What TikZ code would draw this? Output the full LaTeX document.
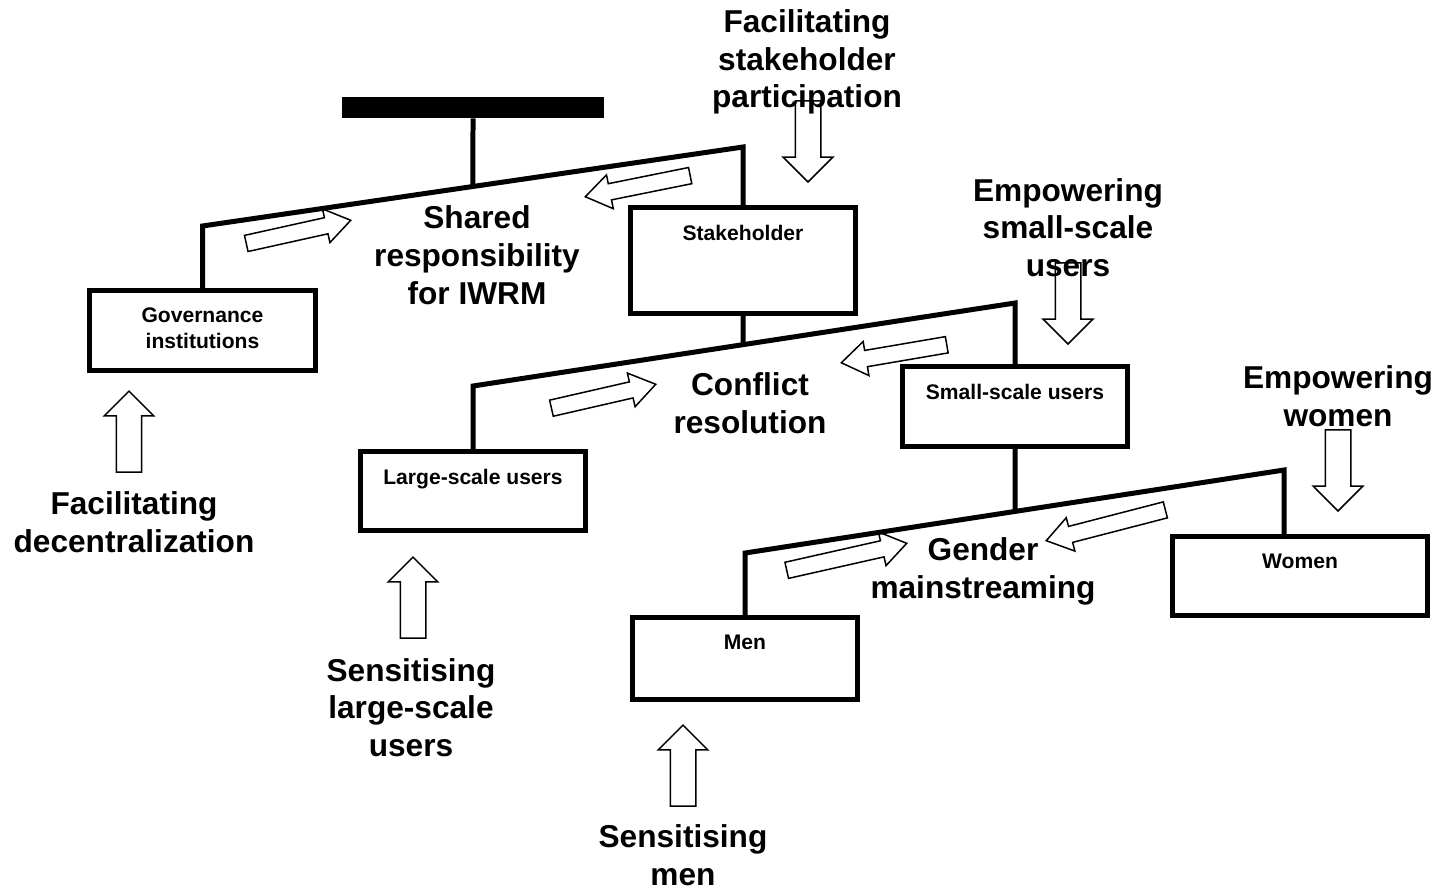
\documentclass[tikz,border=0pt]{standalone}
\usepackage{fontspec}
\setmainfont{Liberation Sans}
\usetikzlibrary{shapes.arrows}

\begin{document}
\begin{tikzpicture}[x=0.02cm, y=-0.02cm,
    unitbox/.style={rectangle, draw, line width=0.1cm, minimum width=4.5cm, minimum height=1.6cm, inner sep=0pt},
    boxtext/.style={anchor=north, yshift=-0.27cm, font=\fontsize{12}{14.7}\selectfont\bfseries, align=center},
    biglabel/.style={font=\fontsize{18}{21.5}\selectfont\bfseries, align=center},
    link/.style={line width=0.1cm},
    vblock/.style={single arrow, draw, line width=0.03cm, inner sep=0.24cm, single arrow head extend=0.24cm, single arrow tip angle=90, minimum height=1.62cm, anchor=tip},
    sblock/.style={single arrow, draw, line width=0.03cm, inner sep=0.15cm, single arrow head extend=0.18cm, single arrow tip angle=69, minimum height=2.14cm, anchor=tip}]
    \useasboundingbox (0,0) rectangle (1441,894);

    % Top of the tree
    \node[fill, minimum width=5.24cm, minimum height=0.42cm, inner sep=0pt] (bar) at (473,107.5) {};

    % Boxes
    \node[unitbox, minimum height=2.12cm, label={[boxtext]north:Stakeholder}] (stake) at (743,260.5) {};
    \node[unitbox, minimum width=4.52cm, label={[boxtext]north:Governance\\institutions}] (gov) at (202.5,330.5) {};
    \node[unitbox, label={[boxtext]north:Small-scale users}] (small) at (1015,406.5) {};
    \node[unitbox, minimum height=1.58cm, label={[boxtext]north:Large-scale users}] (large) at (473,491) {};
    \node[unitbox, minimum width=5.1cm, minimum height=1.58cm, label={[boxtext]north:Women}] (women) at (1300,576) {};
    \node[unitbox, minimum height=1.64cm, label={[boxtext]north:Men}] (men) at (745,658.5) {};

    % Branches
    \coordinate (g1) at (202.5,226);
    \coordinate (s1) at (743,147);
    \draw[link] (gov.north) -- (g1) -- (s1) -- (stake.north);
    \draw[link] (bar.south) -- (intersection of bar.south--bar.north and g1--s1);

    \coordinate (l1) at (473,386);
    \coordinate (r1) at (1015,303);
    \draw[link] (large.north) -- (l1) -- (r1) -- (small.north);
    \draw[link] (stake.south) -- (intersection of stake.south--stake.north and l1--r1);

    \coordinate (l2) at (745,553);
    \coordinate (r2) at (1284,470);
    \draw[link] (men.north) -- (l2) -- (r2) -- (r2 |- women.north);
    \draw[link] (small.south) -- (intersection of small.south--small.north and l2--r2);

    % Sideways arrows
    \node[sblock, rotate=12.5] (shareR) at (352,220) {};
    \node[sblock, rotate=191.4] (shareL) at (584,197) {};
    \node[sblock, rotate=12.9] (conflR) at (657,384) {};
    \node[sblock, rotate=189.7] (conflL) at (840,363) {};
    \node[sblock, rotate=12.7, minimum height=2.46cm] (genR) at (908,543) {};
    \node[sblock, rotate=194.5, minimum height=2.46cm] (genL) at (1045,541) {};

    % Up and down arrows
    \node[vblock, rotate=-90] (toStake) at (808,183) {};
    \node[vblock, rotate=90] (toGov) at (129,390) {};
    \node[vblock, rotate=-90] (toSmall) at (1068,345) {};
    \node[vblock, rotate=-90] (toWomen) at (1338,512) {};
    \node[vblock, rotate=90] (toLarge) at (413,556) {};
    \node[vblock, rotate=90] (toMen) at (683,724) {};

    % Labels
    \node[biglabel] (facStake) at (807,62) {Facilitating\\stakeholder\\participation};
    \node[biglabel] (shared) at (477,255) {Shared\\responsibility\\for IWRM};
    \node[biglabel] (empSmall) at (1068,227.5) {Empowering\\small-scale\\users};
    \node[biglabel] (conflict) at (750,403) {Conflict\\resolution};
    \node[biglabel] (empWomen) at (1338,396) {Empowering\\women};
    \node[biglabel] (facDec) at (134,522) {Facilitating\\decentralization};
    \node[biglabel] (sensLarge) at (411,707.5) {Sensitising\\large-scale\\users};
    \node[biglabel] (gender) at (983,571) {Gender\\mainstreaming};
    \node[biglabel] (sensMen) at (683,855.5) {Sensitising\\men};
\end{tikzpicture}
\end{document}
